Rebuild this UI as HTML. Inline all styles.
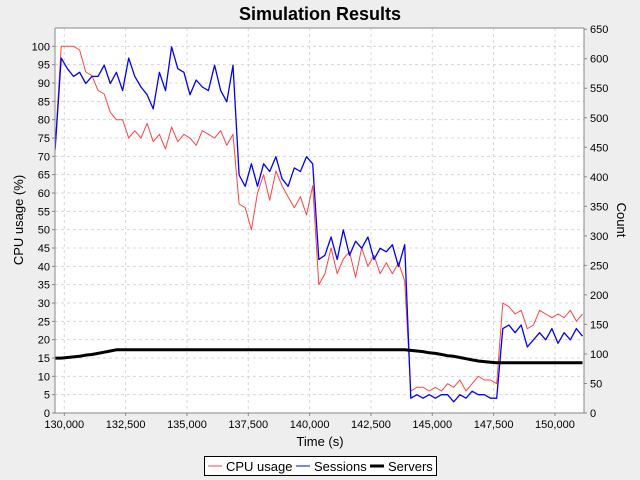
<!DOCTYPE html>
<html><head><meta charset="utf-8"><style>
body{margin:0;background:#eeeeee;font-family:"Liberation Sans",sans-serif;}
svg{display:block}
</style></head><body>
<svg id="chart" width="640" height="480">
<rect x="0" y="0" width="640" height="480" fill="#eeeeee"/>
<text x="320" y="20" text-anchor="middle" font-size="18" font-weight="bold">Simulation Results</text>
<rect x="55" y="28" width="529" height="385" fill="#ffffff"/>
<g id="grid"></g><g id="series"></g><g id="axes"></g>
<text transform="translate(23,220) rotate(-90)" text-anchor="middle" font-size="13">CPU usage (%)</text>
<text transform="translate(617,220) rotate(90)" text-anchor="middle" font-size="13">Count</text>
<text x="320" y="446" text-anchor="middle" font-size="13">Time (s)</text>
<g>
<rect x="204.5" y="456.5" width="232" height="19" fill="#fff" stroke="#000"/>
<line x1="208" y1="466" x2="222" y2="466" stroke="#ff4444"/>
<text x="226" y="471" font-size="13">CPU usage</text>
<line x1="296" y1="466" x2="310" y2="466" stroke="#0000ff"/>
<text x="314" y="471" font-size="13">Sessions</text>
<line x1="370" y1="466" x2="384" y2="466" stroke="#000" stroke-width="3"/>
<text x="388" y="471" font-size="13">Servers</text>
</g>
</svg>
<script>
const startTime = 129625;
const stepSeconds = 250;
const cpuValues = [72,100,100,100,99,93,92,88,87,82,80,80,75,77,75,79,74,76,72,78,74,76,75,73,77,76,75,77,73,76,57,56,50,60,65,58,66,62,59,56,59,54,62,35,38,45,38,42,44,37,45,40,43,38,41,38,41,36,6,7,7,6,7,6,8,7,9,6,8,10,9,9,8,30,29,27,28,23,24,28,27,26,27,26,28,25,27];
const sessionValues = [446,601,583,570,577,558,570,570,589,558,577,546,601,570,552,539,515,577,546,620,583,577,539,564,552,546,589,546,527,589,403,384,422,384,422,409,434,397,384,415,409,434,422,260,267,298,260,310,267,291,279,298,260,279,273,285,248,285,25,31,25,31,25,31,31,19,31,25,37,31,31,25,25,143,149,136,149,112,124,136,124,143,118,136,124,143,130];
const serverValues = [93,93,94,95,96,98,99,101,103,105,107,107,107,107,107,107,107,107,107,107,107,107,107,107,107,107,107,107,107,107,107,107,107,107,107,107,107,107,107,107,107,107,107,107,107,107,107,107,107,107,107,107,107,107,107,107,107,107,106,105,104,102,101,99,97,96,94,92,90,88,87,86,85,85,85,85,85,85,85,85,85,85,85,85,85,85,85];
const xTicks = [130000,132500,135000,137500,140000,142500,145000,147500,150000];
const leftTicks = [0,5,10,15,20,25,30,35,40,45,50,55,60,65,70,75,80,85,90,95,100];
const rightTicks = [0,50,100,150,200,250,300,350,400,450,500,550,600,650];

const NS="http://www.w3.org/2000/svg";
const L=55,R=584,T=28,B=413;
const xMin=129621,xMax=151185;
function xs(t){return L+(t-xMin)/(xMax-xMin)*(R-L);}
function yl(v){return B-v/105*(B-T);}
function yr(v){return B-v/652*(B-T);}
function mk(tag,attrs,parent){const e=document.createElementNS(NS,tag);for(const k in attrs)e.setAttribute(k,attrs[k]);parent.appendChild(e);return e;}
const grid=document.getElementById('grid'),axes=document.getElementById('axes'),ser=document.getElementById('series');
function fmt(n){return n.toLocaleString('en-US');}
xTicks.forEach(t=>{const x=xs(t);
 const g=mk('line',{x1:x,y1:T,x2:x,y2:B,stroke:'#d8d8d8','stroke-dasharray':'3,3'},grid);
 
 
 mk('line',{x1:x,y1:B,x2:x,y2:B+3,stroke:'#888'},axes);
 const tx=mk('text',{x:x,y:B+15,'text-anchor':'middle','font-size':'11'},axes);tx.textContent=fmt(t);
 
 
});
leftTicks.forEach(v=>{const y=yl(v);
 const g=mk('line',{x1:L,y1:y,x2:R,y2:y,stroke:'#d8d8d8','stroke-dasharray':'3,3'},grid);
 
 
 mk('line',{x1:L-3,y1:y,x2:L,y2:y,stroke:'#888'},axes);
 const tx=mk('text',{x:L-5,y:y+4,'text-anchor':'end','font-size':'11'},axes);tx.textContent=v;
 
 
});
rightTicks.forEach(v=>{const y=yr(v);
 mk('line',{x1:R,y1:y,x2:R+3,y2:y,stroke:'#888'},axes);
 const tx=mk('text',{x:R+6,y:y+4,'font-size':'11'},axes);tx.textContent=v;
 
 
});
mk('line',{x1:L,y1:T,x2:L,y2:B,stroke:'#888'},axes);
mk('line',{x1:R,y1:T,x2:R,y2:B,stroke:'#888'},axes);
mk('line',{x1:L,y1:B,x2:R,y2:B,stroke:'#888'},axes);
mk('line',{x1:L,y1:T,x2:R,y2:T,stroke:'#888'},axes);
function line(vals,yf,color,w,name){
 const pts=vals.map((v,i)=>xs(startTime+i*stepSeconds).toFixed(1)+','+yf(v).toFixed(1)).join(' ');
 const p=mk('polyline',{points:pts,fill:'none',stroke:color,'stroke-width':w,'stroke-linejoin':'round'},ser);
 
 
}
line(cpuValues,yl,'#ff4444',1,'cpu-usage-line');
line(sessionValues,yr,'#0000ff',1.3,'sessions-line');
line(serverValues,yr,'#000000',3,'servers-line');
</script>
</body></html>
